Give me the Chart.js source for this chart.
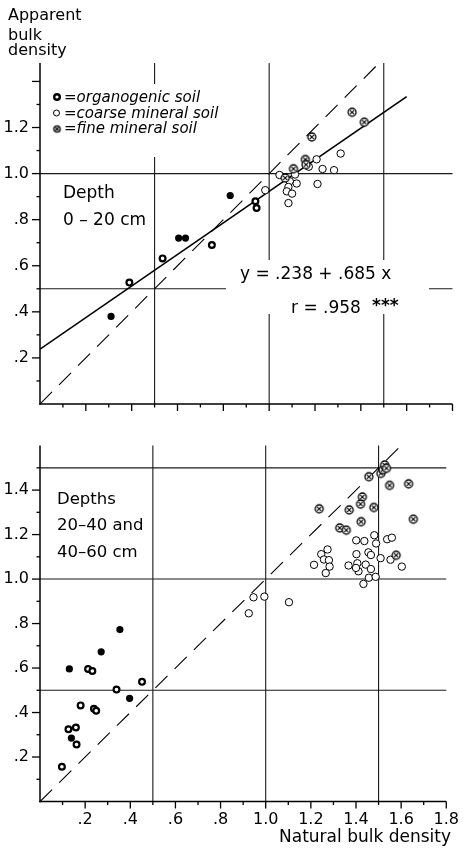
<!DOCTYPE html>
<html><head><meta charset="utf-8">
<script src="https://cdn.jsdelivr.net/npm/chart.js@4"></script>
<style>
html,body{margin:0;padding:0;background:#fff;}
#wrap{position:relative;width:468px;height:853px;background:#fff;}
.pane{position:absolute;left:0;width:468px;}
</style></head><body>
<div id="wrap">
  <div class="pane" style="top:0;height:425px"><canvas id="cTop"></canvas></div>
  <div class="pane" style="top:425px;height:428px"><canvas id="cBottom"></canvas></div>
</div>
<script>
Chart.defaults.font.family = "'DejaVu Sans', sans-serif";
Chart.defaults.color = '#000';

// ---------- tick labels / axes ----------
const xTickLabels = ['.2', '.4', '.6', '.8', '1.0', '1.2', '1.4', '1.6', '1.8'];
const yTickLabelsTop = ['.2', '.4', '.6', '.8', '1.0', '1.2'];
const yTickLabelsBottom = ['.2', '.4', '.6', '.8', '1.0', '1.2', '1.4'];
const xMax = 1.8;
const yMaxTop = 1.48, yTickMaxTop = 1.4;
const yMaxBottom = 1.6, yTickMaxBottom = 1.5;
const refLinesX = [0.5, 1.0, 1.5];
const refLinesYTop = [0.5, 1.0];
const refLinesYBottom = [0.5, 1.0, 1.5];

// ---------- texts ----------
const yTitleLines = ['Apparent', 'bulk', 'density'];
const xTitle = 'Natural bulk density';
const legendLabels = ['=organogenic soil', '=coarse mineral soil', '=fine mineral soil'];
const topDepthLines = ['Depth', '0 – 20 cm'];
const bottomDepthLines = ['Depths', '20–40 and', '40–60 cm'];
const equationText = 'y = .238 + .685 x';
const rText = 'r = .958';
const sigText = '***';

// ---------- regression / identity ----------
const regIntercept = 0.238, regSlope = 0.685;
const regXRange = [0, 1.6];
const identityTop = [0, 1.48];
const identityBottom = [0, 1.6];

// ---------- data: depth 0-20 cm ----------
const topOrganogenic = [[0.31, 0.38], [0.605, 0.72], [0.635, 0.72], [0.83, 0.905]];
const topOrganogenicRing = [[0.39, 0.527], [0.535, 0.632], [0.75, 0.69], [0.94, 0.88], [0.945, 0.851]];
const topCoarse = [[0.983, 0.928], [1.045, 0.994], [1.09, 0.967], [1.084, 0.942], [1.077, 0.923],
  [1.10, 0.913], [1.12, 0.957], [1.084, 0.872], [1.113, 0.996], [1.173, 1.03], [1.207, 1.062],
  [1.233, 1.02], [1.283, 1.015], [1.211, 0.955], [1.312, 1.087]];
const topFine = [[1.07, 0.981], [1.106, 1.021], [1.158, 1.061], [1.161, 1.039], [1.186, 1.159],
  [1.362, 1.266], [1.415, 1.223]];

// ---------- data: depths 20-40 and 40-60 cm ----------
const bottomOrganogenic = [[0.13, 0.596], [0.354, 0.773], [0.271, 0.673], [0.397, 0.464], [0.139, 0.285]];
const bottomOrganogenicRing = [[0.213, 0.596], [0.232, 0.587], [0.452, 0.538], [0.339, 0.503],
  [0.18, 0.432], [0.239, 0.417], [0.249, 0.408], [0.126, 0.325], [0.159, 0.333], [0.162, 0.256], [0.097, 0.156]];
const bottomCoarse = [[0.925, 0.846], [0.946, 0.918], [0.994, 0.921], [1.103, 0.896],
  [1.481, 1.197], [1.401, 1.174], [1.437, 1.171], [1.489, 1.16], [1.538, 1.179], [1.559, 1.186],
  [1.274, 1.133], [1.246, 1.112], [1.402, 1.112], [1.455, 1.12], [1.466, 1.108], [1.509, 1.094],
  [1.553, 1.087], [1.258, 1.088], [1.28, 1.085], [1.283, 1.056], [1.214, 1.064], [1.266, 1.027],
  [1.367, 1.061], [1.406, 1.071], [1.411, 1.035], [1.4, 1.05], [1.443, 1.065], [1.466, 1.045],
  [1.603, 1.056], [1.457, 1.006], [1.487, 1.01], [1.433, 0.978]];
const bottomFine = [[1.457, 1.46], [1.51, 1.475], [1.52, 1.492], [1.527, 1.513], [1.535, 1.498],
  [1.549, 1.421], [1.633, 1.428], [1.428, 1.369], [1.42, 1.337], [1.479, 1.322], [1.37, 1.311],
  [1.237, 1.316], [1.423, 1.258], [1.654, 1.269], [1.328, 1.23], [1.357, 1.22], [1.578, 1.107]];

// ---------- helpers ----------
function pts(arr) { return arr.map(([x, y]) => ({ x, y })); }
function tickValues(max) {
  const v = [];
  for (let k = 1; k * 0.1 <= max + 1e-9; k++) v.push(+(k * 0.1).toFixed(1));
  return v;
}
function labelFor(labels, v) {
  const l = labels.find(s => Math.abs(parseFloat(s) - v) < 1e-6);
  return l === undefined ? '' : l;
}
function isMajor(v) { return Math.round(v * 10) % 2 === 0; }

function makeFineMarker(r) {
  const s = Math.ceil(r * 2 + 4);
  const c = document.createElement('canvas');
  c.width = c.height = s;
  const g = c.getContext('2d');
  const m = s / 2;
  g.fillStyle = '#fff';
  g.beginPath(); g.arc(m, m, r, 0, Math.PI * 2); g.fill();
  g.strokeStyle = '#000'; g.lineWidth = 1.3; g.stroke();
  const d = r * 0.55;
  g.beginPath();
  g.moveTo(m - d, m - d); g.lineTo(m + d, m + d);
  g.moveTo(m + d, m - d); g.lineTo(m - d, m + d);
  g.lineWidth = 1.1; g.stroke();
  return c;
}
const fineImg = makeFineMarker(4);
const fineImgSmall = makeFineMarker(3.2);

function seg(ctx, x1, y1, x2, y2) { ctx.beginPath(); ctx.moveTo(x1, y1); ctx.lineTo(x2, y2); ctx.stroke(); }

// ---------- panel layout (pixel positions of annotations) ----------
const F = (sz, st) => (st || '') + ' ' + sz + "px 'DejaVu Sans', sans-serif";
const panelCfg = {
  cTop: {
    refX: refLinesX, refY: refLinesYTop,
    masks: [[48, 84, 244, 157], [226, 260, 429, 314]],
    texts: [
      [yTitleLines[0], 8, 20, F(16)], [yTitleLines[1], 8, 39.5, F(16)], [yTitleLines[2], 8, 54.5, F(16)],
      [legendLabels[0], 64, 102, F(15, 'italic')], [legendLabels[1], 64, 117.5, F(15, 'italic')], [legendLabels[2], 64, 133, F(15, 'italic')],
      [topDepthLines[0], 63, 198, F(17)], [topDepthLines[1], 63, 225, F(17)],
      [equationText, 240, 279, F(17)], [rText, 291, 313, F(17)], [sigText, 372, 311, F(17, 'bold')]
    ],
    legend: true
  },
  cBottom: {
    refX: refLinesX, refY: refLinesYBottom,
    masks: [],
    texts: [
      [bottomDepthLines[0], 57, 79, F(16.5)], [bottomDepthLines[1], 57, 105, F(16.5)], [bottomDepthLines[2], 57, 132, F(16.5)],
      [xTitle, 451, 416.5, F(17), 'right']
    ],
    legend: false
  }
};

const decor = {
  id: 'decor',
  beforeDatasetsDraw(chart) {
    const p = panelCfg[chart.canvas.id];
    const { ctx, chartArea: a } = chart;
    const x = chart.scales.x, y = chart.scales.y;
    ctx.save();
    ctx.strokeStyle = '#1a1a1a'; ctx.lineWidth = 1.1;
    p.refX.forEach(v => { const px = x.getPixelForValue(v); seg(ctx, px, a.top, px, a.bottom); });
    p.refY.forEach(v => { const py = y.getPixelForValue(v); seg(ctx, a.left, py, a.right, py); });
    ctx.fillStyle = '#fff';
    p.masks.forEach(([l, t, r, b]) => ctx.fillRect(l, t, r - l, b - t));
    ctx.strokeStyle = '#000'; ctx.lineWidth = 1.5;
    seg(ctx, a.left, a.top, a.left, a.bottom + 0.75);
    seg(ctx, a.left - 0.75, a.bottom, a.right, a.bottom);
    ctx.lineWidth = 1.3;
    x.ticks.forEach(t => { const px = x.getPixelForValue(t.value); seg(ctx, px, a.bottom, px, a.bottom + (isMajor(t.value) ? 7 : 3.5)); });
    y.ticks.forEach(t => { const py = y.getPixelForValue(t.value); seg(ctx, a.left - (isMajor(t.value) ? 8 : 3.5), py, a.left, py); });
    ctx.fillStyle = '#000'; ctx.textBaseline = 'alphabetic';
    p.texts.forEach(([s, tx, ty, font, align]) => { ctx.font = font; ctx.textAlign = align || 'left'; ctx.fillText(s, tx, ty); });
    if (p.legend) {
      ctx.beginPath(); ctx.arc(57, 97, 2.8, 0, Math.PI * 2);
      ctx.fillStyle = '#fff'; ctx.fill(); ctx.lineWidth = 2.4; ctx.strokeStyle = '#000'; ctx.stroke();
      ctx.beginPath(); ctx.arc(56.5, 113, 3, 0, Math.PI * 2); ctx.lineWidth = 1; ctx.stroke();
      ctx.drawImage(fineImgSmall, 57 - fineImgSmall.width / 2, 129 - fineImgSmall.height / 2);
    }
    ctx.restore();
  }
};

function buildDatasets(d) {
  const sets = [{
    label: 'identity', data: [{ x: d.identity[0], y: d.identity[0] }, { x: d.identity[1], y: d.identity[1] }],
    showLine: true, borderColor: '#000', borderWidth: 1.1, borderDash: [17, 10], pointRadius: 0, order: 6
  }];
  if (d.reg) {
    sets.push({
      label: 'regression',
      data: regXRange.map(v => ({ x: v, y: regIntercept + regSlope * v })),
      showLine: true, borderColor: '#000', borderWidth: 1.7, pointRadius: 0, order: 5
    });
  }
  sets.push(
    { label: 'coarse mineral soil', data: pts(d.coarse), pointStyle: 'circle', pointRadius: 3.7, borderWidth: 1, borderColor: '#000', backgroundColor: '#fff', order: 3 },
    { label: 'fine mineral soil', data: pts(d.fine), pointStyle: fineImg, pointRadius: 4, order: 2 },
    { label: 'organogenic soil (ring)', data: pts(d.orgRing), pointStyle: 'circle', pointRadius: 2.9, borderWidth: 2.2, borderColor: '#000', backgroundColor: '#fff', order: 1 },
    { label: 'organogenic soil', data: pts(d.org), pointStyle: 'circle', pointRadius: 3.6, borderWidth: 0, borderColor: '#000', backgroundColor: '#000', order: 0 }
  );
  return sets;
}

function makeChart(id, d, yLabels, yMax, yTickMax, xLabelsShown, xHeight, padTop) {
  return new Chart(document.getElementById(id), {
    type: 'scatter',
    data: { datasets: buildDatasets(d) },
    plugins: [decor],
    options: {
      responsive: true, maintainAspectRatio: false, animation: false, devicePixelRatio: 1,
      events: [],
      layout: { padding: { left: 0, right: 15.5, top: padTop, bottom: 0 } },
      plugins: { legend: { display: false }, tooltip: { enabled: false } },
      scales: {
        x: {
          type: 'linear', min: 0, max: xMax,
          grid: { display: false, drawTicks: false }, border: { display: false },
          afterBuildTicks: s => { s.ticks = tickValues(xMax).map(v => ({ value: v })); },
          ticks: {
            display: xLabelsShown, autoSkip: false, maxRotation: 0, minRotation: 0, padding: 9,
            font: { size: 16 }, color: '#000', callback: v => labelFor(xTickLabels, v)
          },
          afterFit: s => { s.height = xHeight; }
        },
        y: {
          type: 'linear', min: 0, max: yMax,
          grid: { display: false, drawTicks: false }, border: { display: false },
          afterBuildTicks: s => { s.ticks = tickValues(yTickMax).map(v => ({ value: v })); },
          ticks: { autoSkip: false, padding: 11, font: { size: 16 }, color: '#000', callback: v => labelFor(yLabels, v) },
          afterFit: s => { s.width = 40; }
        }
      }
    }
  });
}

makeChart('cTop', { identity: identityTop, reg: true, coarse: topCoarse, fine: topFine, orgRing: topOrganogenicRing, org: topOrganogenic },
  yTickLabelsTop, yMaxTop, yTickMaxTop, false, 21, 63);
makeChart('cBottom', { identity: identityBottom, reg: false, coarse: bottomCoarse, fine: bottomFine, orgRing: bottomOrganogenicRing, org: bottomOrganogenic },
  yTickLabelsBottom, yMaxBottom, yTickMaxBottom, true, 51.5, 12.5);
</script>
</body></html>
